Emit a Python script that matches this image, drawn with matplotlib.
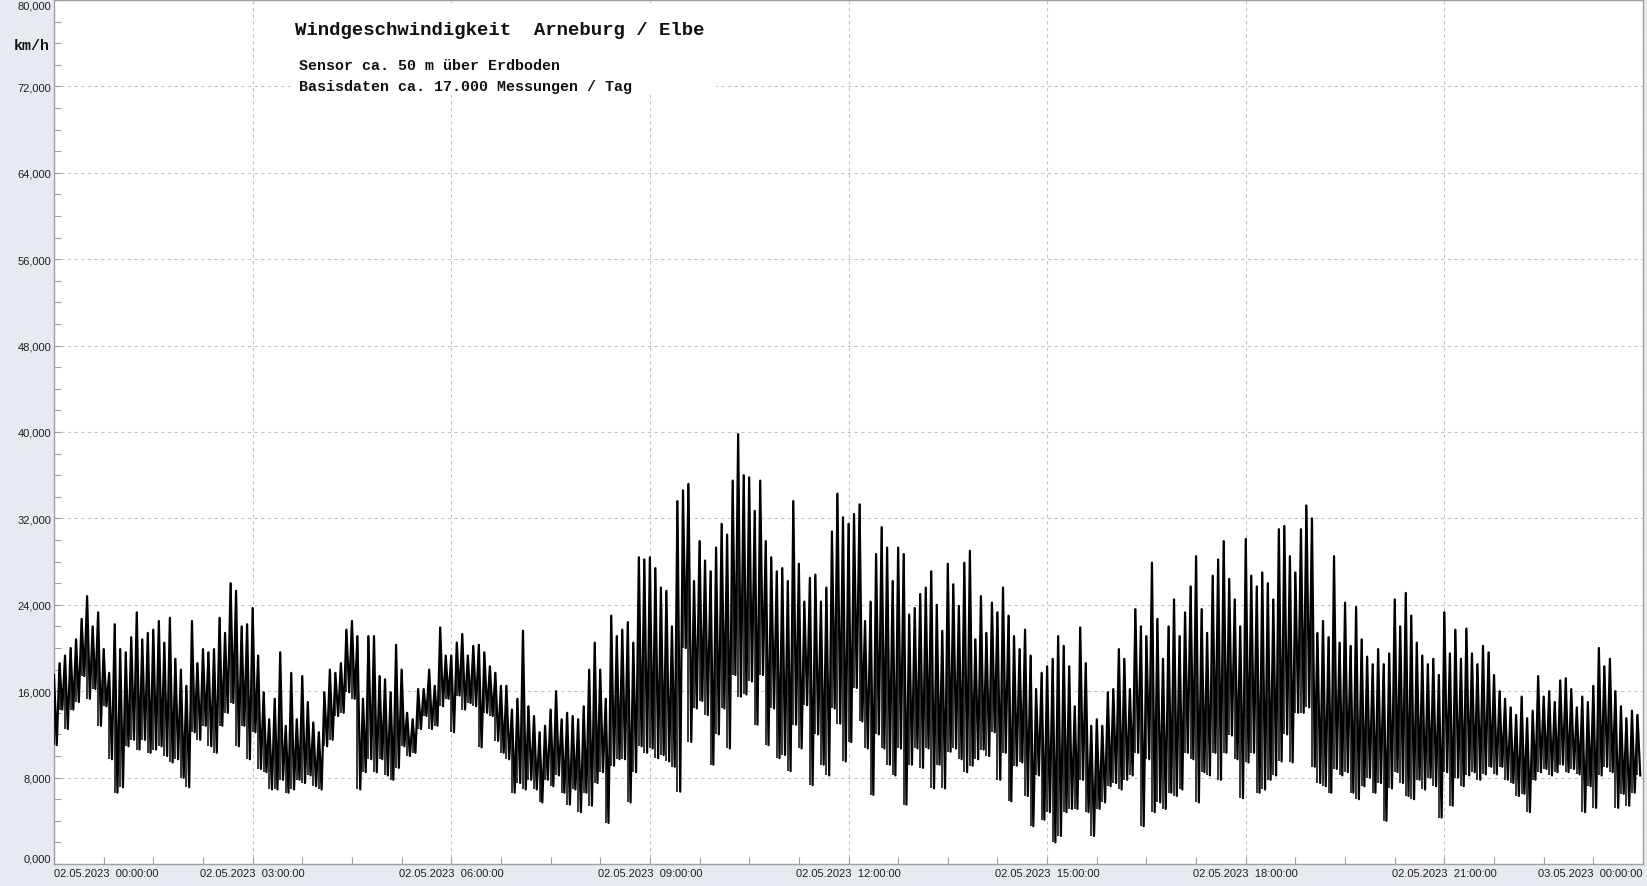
import numpy as np
import matplotlib.pyplot as plt
from matplotlib.patches import Rectangle
from matplotlib.ticker import MultipleLocator, FixedLocator, FuncFormatter

# wind speed in km/h, max and min of every 5 minutes, one row per hour
wind_max = [
    17.5, 18.6, 19.3, 20.0, 20.8, 22.7, 24.8, 22.0, 23.3, 19.9, 17.7, 22.2,
    19.9, 19.6, 21.0, 23.3, 20.8, 21.4, 21.7, 22.5, 20.5, 22.8, 19.0, 18.0,
    16.5, 22.5, 18.6, 19.9, 19.6, 19.9, 22.8, 21.4, 26.0, 25.3, 22.0, 22.2,
    23.7, 19.3, 15.9, 13.4, 15.3, 19.6, 12.8, 17.7, 13.4, 17.4, 15.0, 13.1,
    12.2, 15.9, 18.0, 17.7, 18.6, 21.7, 22.5, 21.1, 15.3, 21.1, 21.1, 17.4,
    17.1, 15.9, 20.3, 18.0, 14.0, 13.4, 16.2, 16.2, 18.0, 16.5, 21.9, 19.3,
    19.3, 20.5, 21.3, 19.3, 20.2, 20.3, 19.6, 18.3, 17.7, 16.5, 16.5, 14.3,
    15.3, 21.6, 14.6, 13.7, 12.2, 12.8, 14.3, 16.0, 13.4, 14.0, 13.7, 13.4,
    14.6, 18.0, 20.5, 18.0, 15.3, 23.0, 21.1, 21.7, 22.4, 20.5, 28.4, 28.2,
    28.4, 27.4, 25.6, 25.3, 22.0, 33.6, 34.6, 35.2, 26.2, 29.9, 28.1, 27.1,
    29.3, 31.5, 30.5, 35.5, 39.8, 36.0, 35.8, 32.7, 35.5, 29.9, 28.4, 27.1,
    27.4, 26.2, 33.6, 27.8, 24.3, 26.5, 26.8, 24.3, 25.6, 30.8, 34.3, 32.1,
    31.5, 32.4, 33.3, 22.5, 24.3, 28.7, 31.2, 29.3, 26.2, 29.3, 28.7, 23.1,
    23.7, 25.0, 25.6, 27.1, 24.0, 21.6, 27.8, 25.9, 23.9, 27.9, 29.0, 20.8,
    24.8, 21.4, 24.2, 23.3, 25.6, 23.0, 21.1, 19.9, 21.7, 19.3, 16.2, 17.7,
    18.3, 19.0, 21.1, 20.2, 18.3, 14.6, 21.9, 18.6, 12.8, 13.4, 12.8, 15.9,
    16.2, 19.9, 19.0, 16.2, 23.6, 22.0, 21.1, 27.9, 22.7, 19.0, 22.0, 24.5,
    21.1, 23.3, 25.7, 28.5, 23.6, 21.4, 26.7, 28.2, 29.9, 26.4, 24.5, 22.0,
    30.1, 26.7, 25.7, 27.0, 26.0, 24.5, 31.0, 31.3, 28.5, 27.0, 31.0, 33.2,
    32.0, 21.4, 22.5, 21.0, 28.5, 20.5, 24.2, 20.2, 23.8, 20.8, 19.2, 18.5,
    19.9, 18.5, 19.5, 24.5, 22.0, 25.1, 23.0, 20.5, 19.3, 18.5, 19.0, 17.5,
    23.3, 19.5, 21.7, 19.0, 21.8, 19.5, 18.5, 20.2, 19.6, 17.5, 16.0, 15.3,
    14.5, 13.8, 15.5, 13.5, 14.2, 17.4, 15.5, 16.0, 15.0, 17.0, 17.2, 16.2,
    14.5, 15.5, 15.0, 16.5, 20.0, 18.3, 19.0, 16.0, 14.6, 13.5, 14.2, 13.8,
]
wind_min = [
    11.0, 14.3, 12.5, 14.3, 15.0, 17.4, 15.3, 16.2, 12.8, 14.6, 9.7, 6.6,
    7.1, 10.9, 11.5, 10.6, 11.5, 10.3, 10.6, 10.9, 10.0, 9.4, 9.7, 8.0,
    7.1, 12.2, 11.5, 12.8, 10.9, 10.3, 12.8, 14.0, 14.9, 10.9, 12.8, 9.7,
    12.2, 8.8, 8.5, 6.9, 6.9, 7.8, 6.6, 6.9, 7.8, 7.5, 8.2, 7.2,
    6.9, 10.9, 11.5, 13.7, 14.0, 15.9, 15.3, 6.9, 8.5, 9.7, 8.5, 9.7,
    8.2, 7.8, 8.9, 10.9, 10.0, 10.3, 12.5, 13.7, 12.5, 12.8, 14.6, 15.3,
    12.2, 15.6, 14.3, 14.9, 14.6, 10.8, 14.0, 13.7, 11.4, 10.3, 9.7, 6.6,
    7.5, 6.9, 7.8, 6.9, 5.7, 7.8, 7.2, 8.2, 6.6, 5.5, 6.9, 4.8,
    6.6, 5.4, 7.5, 8.5, 3.8, 9.1, 9.7, 9.7, 5.7, 8.5, 10.9, 10.3,
    10.7, 9.8, 10.1, 9.5, 9.0, 6.7, 20.0, 11.3, 14.4, 15.1, 13.8, 9.2,
    12.0, 14.4, 10.7, 17.5, 15.5, 15.7, 16.9, 12.9, 17.5, 11.0, 14.4, 9.8,
    10.1, 8.6, 12.9, 10.7, 14.7, 7.3, 12.0, 9.2, 8.2, 14.4, 13.0, 9.5,
    11.3, 16.3, 13.2, 10.7, 6.4, 12.0, 10.7, 9.2, 8.2, 10.7, 5.5, 9.2,
    10.7, 8.9, 10.7, 7.0, 9.2, 7.0, 10.4, 10.7, 9.7, 8.5, 9.1, 9.7,
    10.6, 10.0, 12.2, 7.8, 10.3, 5.8, 9.1, 9.4, 6.3, 3.5, 8.2, 4.1,
    4.8, 2.0, 2.6, 4.8, 5.1, 5.1, 7.8, 4.8, 2.6, 5.1, 5.7, 7.2,
    7.5, 6.9, 7.8, 8.2, 10.3, 3.5, 9.7, 4.8, 5.7, 5.1, 6.6, 6.3,
    6.9, 10.3, 9.7, 5.7, 8.5, 8.2, 10.3, 7.8, 10.3, 11.9, 9.7, 6.1,
    9.4, 10.3, 6.6, 6.9, 7.8, 8.2, 9.5, 12.0, 9.4, 14.0, 14.0, 14.5,
    9.0, 7.5, 7.2, 6.6, 8.8, 8.2, 8.5, 6.6, 6.0, 7.2, 8.0, 6.6,
    7.5, 4.0, 7.0, 8.5, 7.5, 6.3, 6.0, 7.8, 6.9, 8.0, 7.2, 4.3,
    8.5, 5.4, 8.0, 7.2, 8.2, 8.5, 7.8, 8.3, 9.0, 8.3, 9.0, 7.8,
    7.5, 6.3, 6.5, 4.8, 7.8, 8.5, 8.8, 8.2, 8.5, 9.2, 8.5, 8.8,
    8.3, 4.8, 7.2, 5.2, 8.2, 9.0, 8.5, 5.2, 6.5, 5.4, 6.6, 8.2,
]

tick_hours = [0, 3, 6, 9, 12, 15, 18, 21, 24]
tick_labels = ["02.05.2023  00:00:00", "02.05.2023  03:00:00", "02.05.2023  06:00:00",
               "02.05.2023  09:00:00", "02.05.2023  12:00:00", "02.05.2023  15:00:00",
               "02.05.2023  18:00:00", "02.05.2023  21:00:00", "03.05.2023  00:00:00"]
speed_ticks = [0, 8, 16, 24, 32, 40, 48, 56, 64, 72, 80]

W, H = 1647, 887
bg = '#e8eaf1'
frame = '#a0a0a0'

fig = plt.figure(figsize=(W / 100, H / 100), dpi=100, facecolor=bg)
ax = fig.add_axes([54 / W, 22 / H, 1589 / W, 864 / H])
ax.set_facecolor('white')

# every 5 minute slot: a stroke from min to max, plus the trace max -> min -> next max
slot = np.arange(len(wind_max)) / 12.0
ax.vlines(slot, wind_min, wind_max, color='black', lw=1.1, zorder=3)
t = np.column_stack([slot, slot + 2.5 / 60]).ravel()
v = np.column_stack([wind_max, wind_min]).ravel()
ax.plot(t, v, color='black', lw=1.6, zorder=3)

ax.set_xlim(0, 24)
ax.set_ylim(0, 80)
ax.set_axisbelow(True)

ax.xaxis.set_major_locator(FixedLocator(tick_hours))
ax.set_xticklabels(tick_labels)
ax.xaxis.set_minor_locator(MultipleLocator(0.75))
ax.yaxis.set_major_locator(FixedLocator(speed_ticks))
ax.yaxis.set_minor_locator(MultipleLocator(2))
ax.yaxis.set_major_formatter(FuncFormatter(lambda y, p: f"{y:.3f}".replace('.', ',')))

ax.grid(True, which='major', color='#c4c4c4', linestyle=(0, (3, 3)), lw=0.8)
ax.tick_params(which='both', direction='in', color=frame, labelsize=8,
               labelcolor='#1e1e1e', length=5, width=0.8)
ax.tick_params(axis='x', which='major', pad=3)
ax.tick_params(axis='y', which='major', pad=2)
for lab in ax.get_xticklabels() + ax.get_yticklabels():
    lab.set_family('Liberation Sans')

xl = ax.get_xticklabels()
xl[0].set_ha('left')
xl[-1].set_ha('right')
yl = ax.get_yticklabels()
yl[0].set_va('bottom')
yl[-1].set_va('top')

for s in ax.spines.values():
    s.set_color(frame)
    s.set_linewidth(1.0)

# white box behind the heading
ax.add_patch(Rectangle((290 / W, 1 - 96 / H), 426 / W, 92 / H, transform=fig.transFigure,
                       facecolor='white', edgecolor='none', zorder=2))

mono = dict(family='Liberation Mono', weight='bold', color='#111111', va='center')
fig.text(295 / W, 1 - 30.5 / H, "Windgeschwindigkeit  Arneburg / Elbe", size=13.7, **mono)
fig.text(299 / W, 1 - 66 / H, "Sensor ca. 50 m über Erdboden", size=10.8, **mono)
fig.text(299 / W, 1 - 87 / H, "Basisdaten ca. 17.000 Messungen / Tag", size=10.8, **mono)
fig.text(14 / W, 1 - 46.5 / H, "km/h", size=10.8, **mono)

fig.savefig('out.png', dpi=100, facecolor=fig.get_facecolor())
